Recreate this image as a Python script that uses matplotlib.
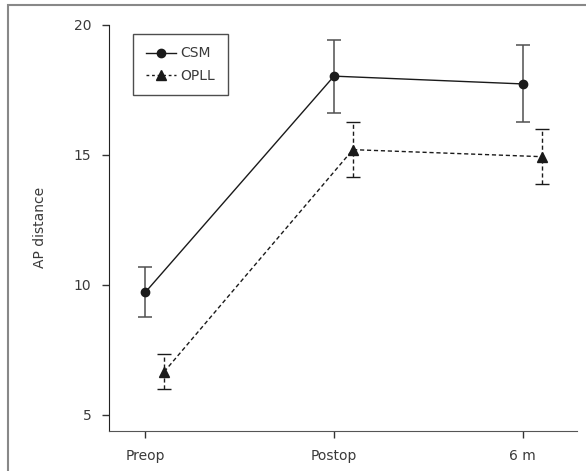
import matplotlib
matplotlib.use("Agg")
import matplotlib.pyplot as plt
from matplotlib.patches import Rectangle
from matplotlib.lines import Line2D
import numpy as np

categories = ["Preop", "Postop", "6 m"]
csm_mean = [9.71, 18.03, 17.73]
csm_err = [0.96, 1.40, 1.48]
opll_mean = [6.65, 15.2, 14.93]
opll_err = [0.68, 1.05, 1.07]
yticks = [5, 10, 15, 20]

plt.rcParams['font.family'] = ['DejaVu Sans']
txt = '#3a3a3a'

fig = plt.figure(figsize=(5.86, 4.71), dpi=100)
fig.patches.append(Rectangle((8/586, -0.05), 1.1, 1 - 5/471 + 0.05, transform=fig.transFigure,
                             fill=False, edgecolor='#888888', linewidth=1.5))
ax = fig.add_axes([0.1865, 0.0855, 0.984 - 0.1865, 0.947 - 0.0855])

x = np.arange(len(categories))
off = 0.1
ecol = '#505050'
ax.errorbar(x, csm_mean, yerr=csm_err, fmt='none', ecolor=ecol, capsize=5,
            elinewidth=1.1, capthick=1.1)
ax.plot(x, csm_mean, color='#1a1a1a', marker='o', markersize=6, linestyle='-', linewidth=1.0)
e2 = ax.errorbar(x + off, opll_mean, yerr=opll_err, fmt='none', ecolor='#1a1a1a', capsize=5,
                 elinewidth=1.0, capthick=1.0)
for bar in e2[2]:
    bar.set_linestyle((0, (3, 2)))
ax.plot(x + off, opll_mean, color='#1a1a1a', marker='^', markersize=6.5,
        linestyle=(0, (3, 2)), linewidth=1.0)

ax.set_xlim(-0.191, 2.286)
ax.set_ylim(4.38, 20.0)
ax.set_xticks(x)
ax.set_xticklabels(categories)
ax.set_yticks(yticks)
ax.spines['top'].set_visible(False)
ax.spines['right'].set_visible(False)
ax.spines['left'].set_color('#222222')
ax.spines['bottom'].set_color('#555555')
ax.tick_params(axis='both', direction='out', length=5, width=1, colors='#333333',
               labelsize=10, labelcolor=txt, pad=8)
ax.set_ylabel('AP distance', fontsize=10, color=txt, labelpad=19)

handles = [Line2D([], [], color='#1a1a1a', marker='o', markersize=6, linestyle='-', linewidth=1.0),
           Line2D([], [], color='#1a1a1a', marker='^', markersize=6.5, linestyle=(0, (2, 2)), linewidth=1.0)]
leg = ax.legend(handles, ['CSM', 'OPLL'], loc='upper left', bbox_to_anchor=(0.036, 0.995),
                frameon=True, fancybox=False, edgecolor='#222222', fontsize=10,
                handlelength=2.2, borderpad=0.9, labelspacing=0.6, handletextpad=0.3)
leg.get_frame().set_linewidth(1.0)
for t in leg.get_texts():
    t.set_color(txt)

fig.savefig('out.png', dpi=100)
